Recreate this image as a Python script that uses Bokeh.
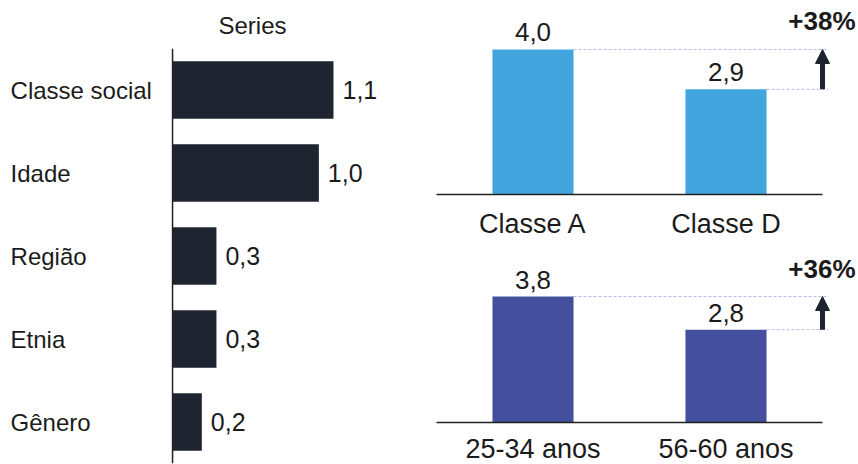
from bokeh.plotting import figure
from bokeh.layouts import row, column
from bokeh.core.properties import value
from bokeh.models import (ColumnDataSource, Range1d, FactorRange, LabelSet, Label,
                          Arrow, NormalHead, Span)
from bokeh.transform import dodge
from bokeh.embed import file_html
from bokeh.resources import INLINE

# ---- data ----
drivers = ["Classe social", "Idade", "Região", "Etnia", "Gênero"]
driver_values = [1.1, 1.0, 0.3, 0.3, 0.2]

class_labels = ["Classe A", "Classe D"]
class_values = [4.0, 2.9]

age_labels = ["25-34 anos", "56-60 anos"]
age_values = [3.8, 2.8]

FONT = value("Liberation Sans")
INK = "#1b1b1b"
DARK = "#1e2430"
DASH = "#b3bbe6"


def fmt(v):
    return f"{v:.1f}".replace(".", ",")


# ---- left: horizontal bars ----
left = figure(
    y_range=FactorRange(factors=drivers[::-1]),
    x_range=Range1d(-1.176, 1.558),
    frame_width=400, frame_height=415,
    min_border_left=0, min_border_right=0, min_border_top=48, min_border_bottom=1,
    x_axis_location=None, y_axis_location=None,
    title="Series",
    toolbar_location=None, output_backend="svg",
)
left.title.text_font = "Liberation Sans"
left.title.text_font_size = "24px"
left.title.text_font_style = "normal"
left.title.text_color = INK
left.title.align = "left"
left.title.offset = 218
left.title.standoff = 19

left.outline_line_color = None
left.grid.visible = False

# category axis line at zero
left.add_layout(Span(location=0, dimension="height", line_color="#222222", line_width=1.5))

src_l = ColumnDataSource(dict(cat=drivers, val=driver_values,
                              txt=[fmt(v) for v in driver_values],
                              zero=[0] * len(drivers)))
left.hbar(y="cat", right="val", left=0, height=0.69, source=src_l,
          fill_color=DARK, line_color=None)
left.add_layout(LabelSet(x="val", y="cat", text="txt", source=src_l,
                         x_offset=9, text_baseline="middle", text_align="left",
                         text_font=FONT, text_font_size=value("25px"), text_color=INK))
left.add_layout(LabelSet(x="zero", y="cat", text="cat", source=src_l,
                         x_offset=-162, text_baseline="middle", text_align="left",
                         text_font=FONT, text_font_size=value("24px"), text_color=INK))


# ---- right: comparison panels ----
def compare_panel(cats, vals, color, y_end, frame_h, standoff):
    p = figure(
        x_range=FactorRange(factors=cats, range_padding=0.1865, range_padding_units="percent"),
        y_range=Range1d(0, y_end),
        frame_width=458, frame_height=frame_h,
        min_border_left=0, min_border_right=0,
        min_border_top=0, min_border_bottom=0,
        y_axis_location=None,
        toolbar_location=None, output_backend="svg",
    )
    n = len(cats)
    p.outline_line_color = None
    p.grid.visible = False
    p.xaxis.bounds = (0, n)
    p.xaxis.major_tick_line_color = None
    p.xaxis.minor_tick_line_color = None
    p.xaxis.axis_line_color = "#222222"
    p.xaxis.axis_line_width = 1.5
    p.xaxis.major_label_text_font = "Liberation Sans"
    p.xaxis.major_label_text_font_size = "27px"
    p.xaxis.major_label_text_color = INK
    p.xaxis.major_label_standoff = standoff

    width = 0.42
    src = ColumnDataSource(dict(cat=cats, val=vals, txt=[fmt(v) for v in vals]))

    # guide lines from each bar top to just past the arrow
    p.segment(x0=dodge("cat", width / 2, range=p.x_range), y0="val",
              x1=n + 0.03, y1="val", source=src,
              line_color=DASH, line_width=1, line_dash="3 2")
    p.vbar(x="cat", top="val", width=width, source=src,
           fill_color=color, line_color=None)

    p.add_layout(LabelSet(x="cat", y="val", text="txt", source=src,
                          y_offset=8, text_align="center", text_baseline="bottom",
                          text_font=FONT, text_font_size=value("26px"), text_color=INK,
                          background_fill_color="white"))

    hi, lo = max(vals), min(vals)
    p.add_layout(Arrow(end=NormalHead(size=14, fill_color=DARK, line_color=DARK),
                       x_start=n, y_start=lo, x_end=n, y_end=hi,
                       line_color=DARK, line_width=5))
    pct = round((hi / lo - 1) * 100)
    p.add_layout(Label(x=n, y=hi, text=f"+{pct}%", x_offset=33, y_offset=28,
                       text_align="right", text_baseline="middle",
                       text_font="Liberation Sans", text_font_size="26px",
                       text_font_style="bold", text_color=INK))
    return p


top = compare_panel(class_labels, class_values, "#42a5de", 5.35, 194, 8)
bottom = compare_panel(age_labels, age_values, "#444f9e", 5.46, 181, 5)

layout = row(left, column(top, bottom))

with open("out.html", "w") as f:
    f.write(file_html(layout, INLINE))
